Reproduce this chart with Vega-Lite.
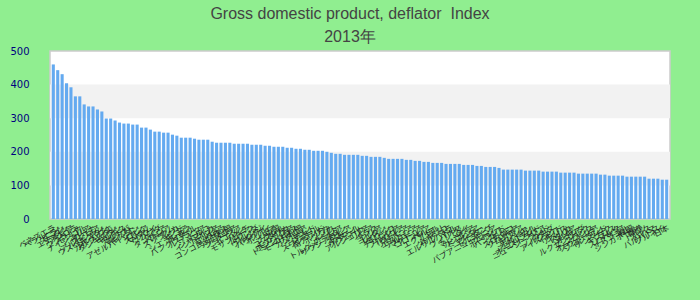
{
  "$schema": "https://vega.github.io/schema/vega-lite/v6.json",
  "width": 620,
  "height": 168,
  "autosize": {"type": "none"},
  "padding": {"left": 50, "top": 51, "right": 30, "bottom": 81},
  "background": "#90ee90",
  "title": {
    "text": "Gross domestic product, deflator\u00a0 Index",
    "subtitle": "2013年",
    "anchor": "middle",
    "dx": -10,
    "font": "Liberation Sans",
    "subtitleFont": "Liberation Sans",
    "fontSize": 16,
    "subtitleFontSize": 16,
    "fontWeight": "normal",
    "color": "#444444",
    "subtitleColor": "#444444",
    "offset": 1,
    "subtitlePadding": 7
  },
  "datasets": {
    "bands": [{"lo": 100, "hi": 200}, {"lo": 300, "hi": 400}],
    "gdp": [
      {"country": "ベネズエラ", "value": 460},
      {"country": "ベラルーシ", "value": 443},
      {"country": "イラン", "value": 431},
      {"country": "スーダン", "value": 404},
      {"country": "エチオピア", "value": 392},
      {"country": "アンゴラ", "value": 365},
      {"country": "ウクライナ", "value": 365},
      {"country": "モンゴル", "value": 341},
      {"country": "ナイジェリア", "value": 335},
      {"country": "ガーナ", "value": 335},
      {"country": "ザンビア", "value": 326},
      {"country": "アルゼンチン", "value": 320},
      {"country": "ウズベキスタン", "value": 299},
      {"country": "ジンバブエ", "value": 299},
      {"country": "カザフスタン", "value": 293},
      {"country": "タジキスタン", "value": 287},
      {"country": "キルギス", "value": 284},
      {"country": "モルドバ", "value": 284},
      {"country": "エジプト", "value": 281},
      {"country": "パキスタン", "value": 281},
      {"country": "アゼルバイジャン", "value": 272},
      {"country": "ロシア", "value": 272},
      {"country": "スリナム", "value": 266},
      {"country": "マラウイ", "value": 260},
      {"country": "ウガンダ", "value": 260},
      {"country": "ケニア", "value": 257},
      {"country": "タンザニア", "value": 257},
      {"country": "ベトナム", "value": 251},
      {"country": "スリランカ", "value": 248},
      {"country": "インド", "value": 242},
      {"country": "ギニア", "value": 242},
      {"country": "シエラレオネ", "value": 242},
      {"country": "ネパール", "value": 239},
      {"country": "バングラデシュ", "value": 236},
      {"country": "ルーマニア", "value": 236},
      {"country": "トルコ", "value": 236},
      {"country": "ジャマイカ", "value": 230},
      {"country": "インドネシア", "value": 227},
      {"country": "セルビア", "value": 227},
      {"country": "ラオス", "value": 227},
      {"country": "コンゴ民主共和国", "value": 227},
      {"country": "アルメニア", "value": 224},
      {"country": "ジョージア", "value": 224},
      {"country": "イエメン", "value": 224},
      {"country": "ハイチ", "value": 224},
      {"country": "モザンビーク", "value": 221},
      {"country": "ルワンダ", "value": 221},
      {"country": "ブルンジ", "value": 221},
      {"country": "ウルグアイ", "value": 218},
      {"country": "パラグアイ", "value": 218},
      {"country": "ボリビア", "value": 215},
      {"country": "中国", "value": 215},
      {"country": "ブラジル", "value": 215},
      {"country": "コスタリカ", "value": 212},
      {"country": "ニカラグア", "value": 212},
      {"country": "ホンジュラス", "value": 209},
      {"country": "ドミニカ共和国", "value": 209},
      {"country": "モーリタニア", "value": 206},
      {"country": "カメルーン", "value": 206},
      {"country": "チャド", "value": 203},
      {"country": "ニジェール", "value": 203},
      {"country": "スワジランド", "value": 203},
      {"country": "南アフリカ", "value": 200},
      {"country": "ボツワナ", "value": 197},
      {"country": "レソト", "value": 194},
      {"country": "ナミビア", "value": 194},
      {"country": "トルクメニスタン", "value": 191},
      {"country": "サウジアラビア", "value": 191},
      {"country": "オマーン", "value": 191},
      {"country": "カタール", "value": 191},
      {"country": "クウェート", "value": 188},
      {"country": "アルジェリア", "value": 188},
      {"country": "リビア", "value": 185},
      {"country": "イラク", "value": 185},
      {"country": "シリア", "value": 185},
      {"country": "ヨルダン", "value": 182},
      {"country": "レバノン", "value": 179},
      {"country": "モロッコ", "value": 179},
      {"country": "チュニジア", "value": 179},
      {"country": "ブルガリア", "value": 179},
      {"country": "ラトビア", "value": 176},
      {"country": "リトアニア", "value": 176},
      {"country": "エストニア", "value": 173},
      {"country": "アルバニア", "value": 173},
      {"country": "マケドニア", "value": 170},
      {"country": "コロンビア", "value": 170},
      {"country": "ペルー", "value": 167},
      {"country": "エクアドル", "value": 167},
      {"country": "チリ", "value": 167},
      {"country": "メキシコ", "value": 164},
      {"country": "グアテマラ", "value": 164},
      {"country": "エルサルバドル", "value": 164},
      {"country": "パナマ", "value": 164},
      {"country": "フィリピン", "value": 161},
      {"country": "タイ", "value": 161},
      {"country": "マレーシア", "value": 161},
      {"country": "カンボジア", "value": 158},
      {"country": "ミャンマー", "value": 158},
      {"country": "ブータン", "value": 155},
      {"country": "モルディブ", "value": 155},
      {"country": "パプアニューギニア", "value": 155},
      {"country": "フィジー", "value": 152},
      {"country": "ポーランド", "value": 147},
      {"country": "ハンガリー", "value": 147},
      {"country": "チェコ", "value": 147},
      {"country": "スロバキア", "value": 147},
      {"country": "クロアチア", "value": 147},
      {"country": "ギリシャ", "value": 144},
      {"country": "スペイン", "value": 144},
      {"country": "ポルトガル", "value": 144},
      {"country": "アイルランド", "value": 144},
      {"country": "オーストラリア", "value": 141},
      {"country": "ニュージーランド", "value": 141},
      {"country": "カナダ", "value": 141},
      {"country": "ノルウェー", "value": 141},
      {"country": "アイスランド", "value": 138},
      {"country": "イギリス", "value": 138},
      {"country": "アメリカ", "value": 138},
      {"country": "イタリア", "value": 138},
      {"country": "ベルギー", "value": 135},
      {"country": "オランダ", "value": 135},
      {"country": "ルクセンブルク", "value": 135},
      {"country": "フランス", "value": 135},
      {"country": "オーストリア", "value": 135},
      {"country": "スウェーデン", "value": 132},
      {"country": "フィンランド", "value": 132},
      {"country": "デンマーク", "value": 129},
      {"country": "キプロス", "value": 129},
      {"country": "マルタ", "value": 129},
      {"country": "スロベニア", "value": 129},
      {"country": "イスラエル", "value": 126},
      {"country": "韓国", "value": 126},
      {"country": "シンガポール", "value": 126},
      {"country": "香港", "value": 126},
      {"country": "ドイツ", "value": 126},
      {"country": "スイス", "value": 120},
      {"country": "バハマ", "value": 120},
      {"country": "バルバドス", "value": 120},
      {"country": "ブルネイ", "value": 117},
      {"country": "日本", "value": 117}
    ]
  },
  "layer": [
    {
      "data": {"name": "bands"},
      "mark": {"type": "rect", "color": "#f2f2f2"},
      "encoding": {
        "y": {
          "field": "lo",
          "type": "quantitative",
          "scale": {"domain": [0, 500]},
          "axis": {"title": null, "values": [0, 100, 200, 300, 400, 500]}
        },
        "y2": {"field": "hi"}
      }
    },
    {
      "data": {"name": "gdp"},
      "mark": {"type": "bar", "color": "#64aaf0"},
      "encoding": {
        "x": {
          "field": "country",
          "type": "nominal",
          "sort": null,
          "scale": {"paddingInner": 0.3, "paddingOuter": 0.4},
          "axis": {"title": null}
        },
        "y": {
          "field": "value",
          "type": "quantitative",
          "scale": {"domain": [0, 500]},
          "axis": {"title": null, "values": [0, 100, 200, 300, 400, 500]}
        }
      }
    }
  ],
  "config": {
    "view": {"stroke": "#cccccc", "strokeWidth": 1.5, "fill": "#ffffff"},
    "axisY": {
      "grid": false,
      "ticks": false,
      "domain": false,
      "labelOverlap": false,
      "labelFlush": false,
      "labelColor": "#000080",
      "labelFont": "DejaVu Sans",
      "labelFontSize": 10,
      "labelPadding": 21
    },
    "axisX": {
      "labelAngle": -28,
      "labelFontSize": 8,
      "labelFont": "Noto Sans CJK JP",
      "labelColor": "#222222",
      "labelOverlap": false,
      "labelPadding": 5,
      "ticks": false,
      "domain": false
    }
  }
}
